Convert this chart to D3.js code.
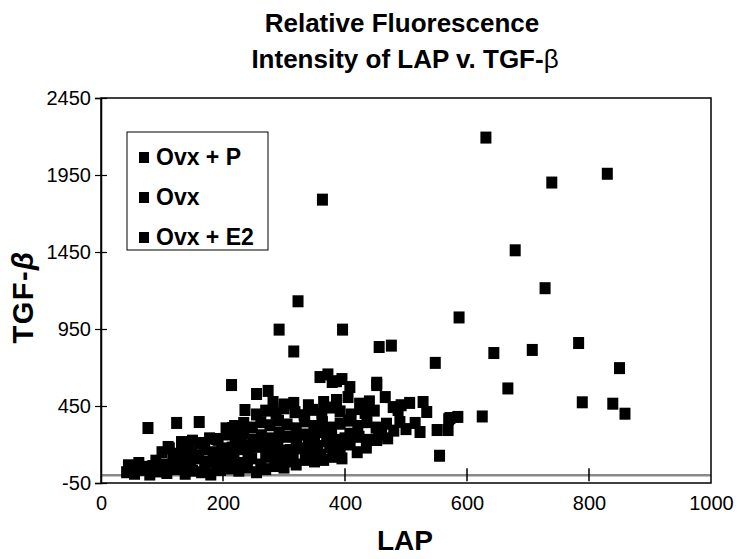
<!DOCTYPE html>
<html lang="en">
  <head>
    <meta charset="utf-8" />
    <title>Relative Fluorescence Intensity of LAP v. TGF-beta</title>
    <style>
      body {
        margin: 0;
        background: white;
      }
      svg {
        font-family: "Liberation Sans", Arial, Helvetica, sans-serif;
      }
      .tick text {
        font-size: 20px;
      }
    </style>
    <script src="https://d3js.org/d3.v7.min.js"></script>
  </head>

  <body>
    <svg width="738" height="559"></svg>

    <script>
      // series values as [LAP, TGF-beta]
      var ovxP = [
        [631, 2193], [739, 1901], [830, 1958], [679, 1461], [728, 1215],
        [587, 1025], [644, 794], [707, 814], [783, 859], [850, 696],
        [667, 564], [789, 474], [839, 465], [859, 400], [625, 382],
        [548, 730], [555, 127], [570, 364], [585, 379], [572, 372],
        [534, 411], [528, 476], [506, 470], [487, 424], [479, 443],
        [523, 281], [551, 294], [569, 294], [515, 340], [490, 346]
      ];

      var ovx = [
        [363, 1790], [323, 1130], [292, 946], [396, 946], [316, 804],
        [456, 833], [476, 842], [359, 638], [379, 606], [408, 573],
        [452, 586], [372, 655], [395, 625], [255, 528], [274, 548],
        [214, 586], [386, 611], [452, 601], [282, 476], [300, 460],
        [316, 470], [340, 455], [365, 476], [386, 489], [405, 508],
        [424, 465], [466, 508], [440, 480], [492, 455], [236, 424],
        [255, 395], [270, 420], [287, 400], [300, 435], [318, 410],
        [333, 390], [347, 425], [362, 400], [376, 440], [392, 415],
        [410, 395], [425, 430], [433, 405], [448, 420], [205, 305],
        [219, 320], [234, 340], [248, 310], [262, 345], [277, 325],
        [291, 355], [305, 330], [320, 305], [334, 350], [349, 320],
        [363, 345], [378, 310], [392, 335], [406, 355], [421, 320],
        [436, 345], [451, 310], [468, 335], [452, 229], [408, 216],
        [310, 164], [470, 240], [455, 260], [440, 230], [460, 300],
        [480, 290], [500, 300], [420, 150], [435, 180], [400, 240]
      ];

      var ovxE2 = [
        [77, 307], [124, 340], [161, 346], [132, 216], [110, 184],
        [42, 20], [55, 10], [68, 35], [80, 5], [95, 25],
        [108, 15], [122, 40], [138, 10], [150, 30], [165, 20],
        [180, 5], [196, 35], [210, 45], [226, 30], [240, 50],
        [45, 65], [62, 80], [75, 55], [90, 95], [104, 70],
        [118, 100], [133, 85], [147, 60], [160, 110], [174, 90],
        [188, 75], [202, 120], [218, 95], [232, 80], [247, 110],
        [262, 70], [276, 120], [290, 100], [305, 90], [100, 150],
        [112, 175], [128, 140], [143, 160], [156, 130], [170, 180],
        [184, 150], [198, 175], [212, 140], [227, 170], [241, 155],
        [255, 185], [270, 145], [285, 170], [300, 160], [315, 140],
        [330, 175], [345, 150], [360, 135], [375, 180], [392, 160],
        [408, 200], [150, 225], [163, 210], [178, 240], [192, 230],
        [206, 265], [220, 245], [234, 275], [249, 230], [263, 260],
        [278, 240], [292, 275], [306, 250], [321, 230], [336, 265],
        [350, 245], [364, 280], [378, 250], [393, 230], [408, 270],
        [423, 250], [189, 236], [216, 307], [169, 170], [149, 150],
        [50, 40], [85, 60], [115, 45], [130, 120], [145, 95],
        [170, 55], [185, 110], [200, 80], [215, 180], [230, 210],
        [245, 195], [260, 220], [275, 195], [290, 210], [320, 200],
        [340, 210], [355, 190], [370, 220], [385, 200], [255, 20],
        [270, 40], [285, 60], [300, 50], [320, 70], [335, 100],
        [350, 90], [365, 100], [380, 120], [395, 110]
      ];

      var seriesNames = ["Ovx + P", "Ovx", "Ovx + E2"];
      var xTicks = [0, 200, 400, 600, 800, 1000];
      var yTicks = [-50, 450, 950, 1450, 1950, 2450];

      var svg = d3.select("svg");

      // plot area, picked to sit on top of the scanned chart
      var plotLeft = 101,
        plotRight = 711,
        plotTop = 98,
        plotBottom = 483;

      var x = d3.scaleLinear().domain([0, 1000]).range([plotLeft, plotRight]);
      var y = d3.scaleLinear().domain([-50, 2450]).range([plotBottom, plotTop]);

      // plain hyphen for negatives, like the original
      var plainNumber = (d) => String(d);

      // zero line (grey band the x ticks sit on)
      svg
        .append("line")
        .attr("x1", plotLeft)
        .attr("x2", plotRight)
        .attr("y1", y(0))
        .attr("y2", y(0))
        .attr("stroke", "#8a8a8a")
        .attr("stroke-width", 2.5);

      // frame round the plot
      svg
        .append("rect")
        .attr("x", plotLeft)
        .attr("y", plotTop)
        .attr("width", plotRight - plotLeft)
        .attr("height", plotBottom - plotTop)
        .attr("fill", "none")
        .attr("stroke", "black")
        .attr("stroke-width", 1.5);

      // y axis with cross ticks
      var yAxis = svg
        .append("g")
        .attr("transform", `translate(${plotLeft},0)`)
        .call(d3.axisLeft(y).tickValues(yTicks).tickSize(6).tickFormat(plainNumber));
      yAxis.select(".domain").attr("stroke-width", 1.5);
      yAxis
        .selectAll(".tick line")
        .attr("x1", -6)
        .attr("x2", 6)
        .attr("stroke-width", 1.2);
      yAxis.selectAll(".tick text").attr("x", -10);

      // x tick labels hang under the frame
      var xAxis = svg
        .append("g")
        .attr("transform", `translate(0,${plotBottom})`)
        .call(
          d3
            .axisBottom(x)
            .tickValues(xTicks)
            .tickSize(0)
            .tickPadding(13)
            .tickFormat(plainNumber)
        );
      xAxis.select(".domain").remove();

      // x tick crosses sit on the zero line
      svg
        .append("g")
        .selectAll("line")
        .data(xTicks.slice(1, -1))
        .enter()
        .append("line")
        .attr("x1", (d) => x(d))
        .attr("x2", (d) => x(d))
        .attr("y1", y(0) - 7)
        .attr("y2", y(0) + 6)
        .attr("stroke", "black")
        .attr("stroke-width", 1.5);

      // points, all series drawn as black squares
      var allSeries = [ovxP, ovx, ovxE2];
      allSeries.forEach((series) => {
        svg
          .append("g")
          .selectAll("rect")
          .data(series)
          .enter()
          .append("rect")
          .attr("x", (d) => x(d[0]) - 5.5)
          .attr("y", (d) => y(d[1]) - 6)
          .attr("width", 11)
          .attr("height", 12)
          .attr("fill", "black");
      });

      // titles
      svg
        .append("text")
        .attr("x", 402)
        .attr("y", 32)
        .attr("text-anchor", "middle")
        .attr("font-size", 26)
        .attr("font-weight", "bold")
        .text("Relative Fluorescence");

      var title2 = svg
        .append("text")
        .attr("x", 405)
        .attr("y", 68)
        .attr("text-anchor", "middle")
        .attr("font-size", 26)
        .attr("font-weight", "bold");
      title2.append("tspan").text("Intensity of LAP v. TGF-");
      title2.append("tspan").attr("font-weight", "normal").text("β");

      svg
        .append("text")
        .attr("x", 405)
        .attr("y", 550)
        .attr("text-anchor", "middle")
        .attr("font-size", 28)
        .attr("font-weight", "bold")
        .text("LAP");

      var yLabel = svg
        .append("text")
        .attr("transform", "translate(33,297) rotate(-90)")
        .attr("text-anchor", "middle")
        .attr("font-size", 29)
        .attr("font-weight", "bold")
        .attr("letter-spacing", 1.5);
      yLabel.append("tspan").text("TGF-");
      yLabel.append("tspan").attr("font-style", "italic").text("β");

      // legend
      var legend = svg.append("g").attr("transform", "translate(127,132)");
      legend
        .append("rect")
        .attr("width", 141)
        .attr("height", 118)
        .attr("fill", "white")
        .attr("stroke", "black")
        .attr("stroke-width", 1);

      var entry = legend
        .selectAll("g")
        .data(seriesNames)
        .enter()
        .append("g")
        .attr("transform", (d, i) => `translate(0,${25 + i * 40})`);
      entry
        .append("rect")
        .attr("x", 12)
        .attr("y", -5)
        .attr("width", 10)
        .attr("height", 11)
        .attr("fill", "black");
      entry
        .append("text")
        .attr("x", 29)
        .attr("y", 8)
        .attr("font-size", 23)
        .attr("font-weight", "bold")
        .text((d) => d);
    </script>
  </body>
</html>
